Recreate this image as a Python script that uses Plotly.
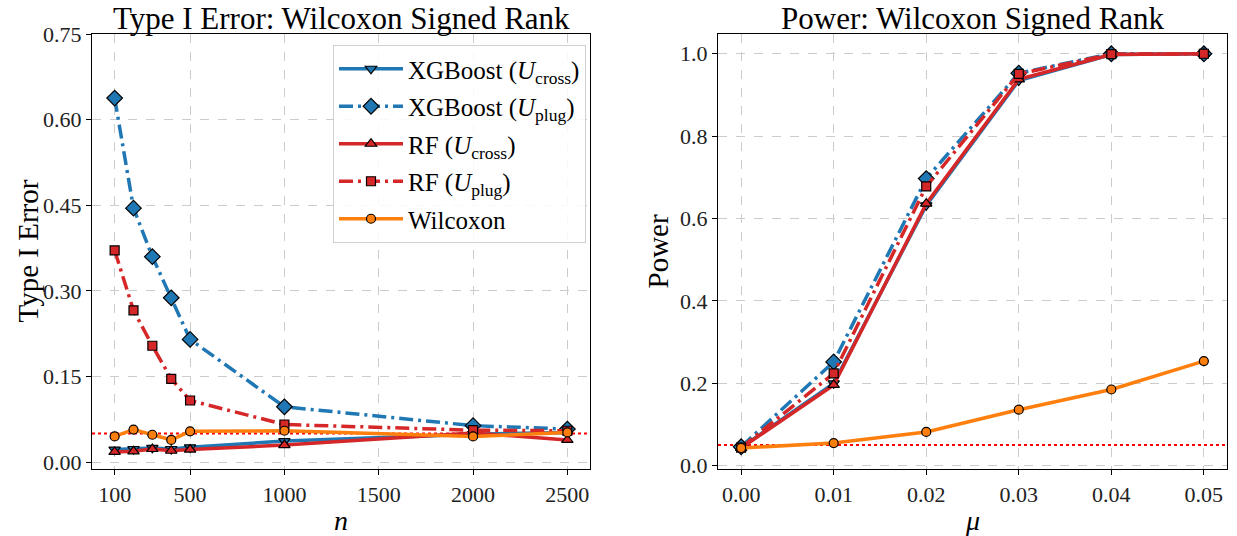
import plotly.graph_objects as go

# ---------------- data ----------------
n_vals = [100, 200, 300, 400, 500, 1000, 2000, 2500]
t1_xgb_cross = [0.022, 0.023, 0.025, 0.023, 0.026, 0.037, 0.049, 0.052]
t1_xgb_plug = [0.638, 0.445, 0.360, 0.288, 0.215, 0.097, 0.064, 0.058]
t1_rf_cross = [0.018, 0.019, 0.023, 0.020, 0.022, 0.030, 0.051, 0.039]
t1_rf_plug = [0.371, 0.266, 0.204, 0.146, 0.108, 0.066, 0.056, 0.055]
t1_wilcoxon = [0.045, 0.057, 0.048, 0.039, 0.054, 0.055, 0.045, 0.052]

mu_vals = [0.00, 0.01, 0.02, 0.03, 0.04, 0.05]
pw_xgb_cross = [0.044, 0.200, 0.632, 0.935, 0.998, 1.000]
pw_xgb_plug = [0.046, 0.252, 0.697, 0.953, 1.000, 1.000]
pw_rf_cross = [0.043, 0.196, 0.636, 0.938, 0.998, 1.000]
pw_rf_plug = [0.044, 0.224, 0.678, 0.951, 0.999, 1.000]
pw_wilcoxon = [0.043, 0.055, 0.082, 0.136, 0.185, 0.254]

alpha_level = 0.05

left_yticks = [0.00, 0.15, 0.30, 0.45, 0.60, 0.75]
left_xticks = [100, 500, 1000, 1500, 2000, 2500]
right_yticks = [0.0, 0.2, 0.4, 0.6, 0.8, 1.0]
right_xticks = [0.00, 0.01, 0.02, 0.03, 0.04, 0.05]

series_names = [
    "XGBoost (<i>U</i><sub>cross</sub>)",
    "XGBoost (<i>U</i><sub>plug</sub>)",
    "RF (<i>U</i><sub>cross</sub>)",
    "RF (<i>U</i><sub>plug</sub>)",
    "Wilcoxon",
]

# ---------------- styles ----------------
BLUE = "#1f77b4"
RED = "#d62728"
ORANGE = "#ff7f0e"
DASHDOT = "14px,5px,3px,5px"
FONT = "Liberation Serif, Times New Roman, serif"

styles = [
    dict(color=BLUE, dash="solid", symbol="triangle-down", size=10),
    dict(color=BLUE, dash=DASHDOT, symbol="diamond", size=12),
    dict(color=RED, dash="solid", symbol="triangle-up", size=10),
    dict(color=RED, dash=DASHDOT, symbol="square", size=9),
    dict(color=ORANGE, dash="solid", symbol="circle", size=9),
]

fig = go.Figure()

left_series = [t1_xgb_cross, t1_xgb_plug, t1_rf_cross, t1_rf_plug, t1_wilcoxon]
right_series = [pw_xgb_cross, pw_xgb_plug, pw_rf_cross, pw_rf_plug, pw_wilcoxon]

for i, (name, ys, st) in enumerate(zip(series_names, left_series, styles)):
    fig.add_trace(go.Scatter(
        x=n_vals, y=ys, name=name, mode="lines+markers", legendgroup=f"g{i}",
        line=dict(color=st["color"], width=3.5, dash=st["dash"]),
        marker=dict(symbol=st["symbol"], size=st["size"], color=st["color"],
                    line=dict(color="black", width=1.2)),
        xaxis="x", yaxis="y", showlegend=True,
    ))

for i, (name, ys, st) in enumerate(zip(series_names, right_series, styles)):
    fig.add_trace(go.Scatter(
        x=mu_vals, y=ys, name=name, mode="lines+markers", legendgroup=f"g{i}",
        line=dict(color=st["color"], width=3.5, dash=st["dash"]),
        marker=dict(symbol=st["symbol"], size=st["size"], color=st["color"],
                    line=dict(color="black", width=1.2)),
        xaxis="x2", yaxis="y2", showlegend=False,
    ))

# reference alpha lines
for xr, yr in [("x domain", "y"), ("x2 domain", "y2")]:
    fig.add_shape(type="line", xref=xr, yref=yr, x0=0, x1=1,
                  y0=alpha_level, y1=alpha_level,
                  line=dict(color="red", width=2, dash="dot"), layer="below")

W, H = 1237, 536
L_X = [92 / W, 590 / W]
R_X = [718 / W, 1227 / W]
Y_D = [1 - 469 / H, 1 - 34 / H]

axis_common = dict(
    showline=True, linecolor="black", linewidth=1.3, mirror=True,
    ticks="outside", ticklen=5, tickwidth=1.2, tickcolor="black",
    showgrid=True, gridcolor="#cccccc", gridwidth=1, griddash="dash",
    zeroline=False, automargin=False,
    tickfont=dict(family=FONT, size=22, color="#222222"),
)


def label(text, x, y, size=28, angle=0):
    return dict(text=text, x=x, y=y, xref="paper", yref="paper",
                xanchor="center", yanchor="middle", showarrow=False,
                textangle=angle, font=dict(family=FONT, size=size, color="black"))


fig.update_layout(
    width=W, height=H,
    margin=dict(l=0, r=0, t=0, b=0, pad=0),
    paper_bgcolor="white", plot_bgcolor="white",
    font=dict(family=FONT, color="black"),
    xaxis=dict(domain=L_X, range=[-20, 2620], tickvals=left_xticks,
               anchor="y", **axis_common),
    yaxis=dict(domain=Y_D, range=[-0.012, 0.7502], tickvals=left_yticks,
               tickformat=".2f", anchor="x", **axis_common),
    xaxis2=dict(domain=R_X, range=[-0.0025, 0.0525], tickvals=right_xticks,
                tickformat=".2f", anchor="y2", **axis_common),
    yaxis2=dict(domain=Y_D, range=[-0.008, 1.048], tickvals=right_yticks,
                tickformat=".1f", anchor="x2", **axis_common),
    legend=dict(
        x=586 / W, y=1 - 45 / H, xanchor="right", yanchor="top",
        bgcolor="rgba(255,255,255,0.85)", bordercolor="#d0d0d0", borderwidth=1,
        font=dict(family=FONT, size=25, color="black"),
        tracegroupgap=2, itemwidth=64,
    ),
    annotations=[
        label("Type I Error: Wilcoxon Signed Rank", (L_X[0] + L_X[1]) / 2, 1 - 18 / H, size=31),
        label("Power: Wilcoxon Signed Rank", (R_X[0] + R_X[1]) / 2, 1 - 18 / H, size=31),
        label("Type I Error", 27 / W, (Y_D[0] + Y_D[1]) / 2, size=29, angle=-90),
        label("Power", 657 / W, (Y_D[0] + Y_D[1]) / 2, size=29, angle=-90),
        label("<i>n</i>", (L_X[0] + L_X[1]) / 2, 1 - 520 / H),
        label("<i>μ</i>", (R_X[0] + R_X[1]) / 2, 1 - 520 / H),
    ],
)

fig.write_html(
    "out.html",
    config={"displayModeBar": False},
    post_script="document.body.style.margin='0px';document.body.style.padding='0px';",
)
